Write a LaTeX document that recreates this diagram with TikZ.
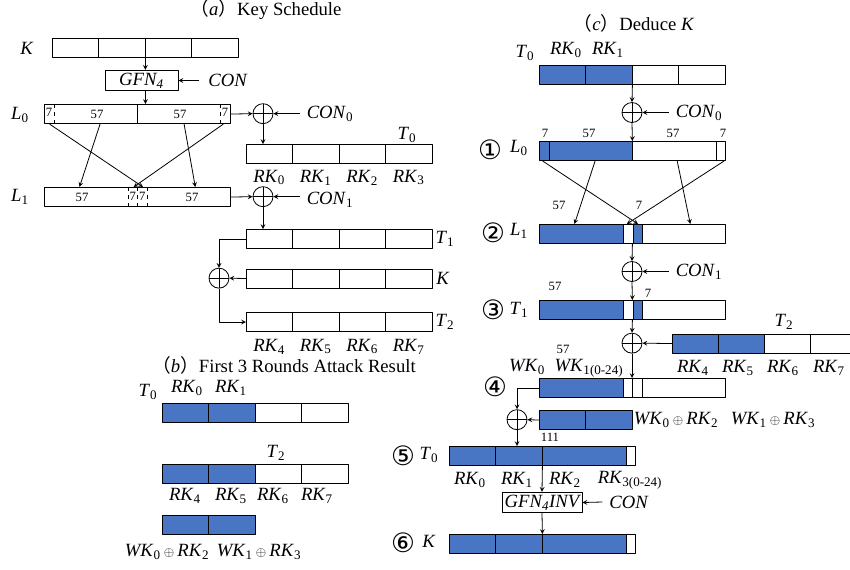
\documentclass[tikz,border=0pt]{standalone}
\usepackage{fontspec}
\setmainfont{Liberation Serif}
\newfontfamily\cjk{Noto Sans CJK SC}
\newfontfamily\circfont{DejaVu Sans}
\usetikzlibrary{calc}
\definecolor{keyblue}{RGB}{72,118,196}
\newcommand\vn[2]{\textit{#1}\textsubscript{#2}}
\newcommand\xo{\,{\fontsize{10}{10}\selectfont$\oplus$}\,}
\tikzset{
	reg/.style={draw,line width=0.6pt,inner sep=0pt,anchor=north west,
		minimum height=14.475pt,minimum width=139.5pt},
	half/.style={minimum width=69.75pt},
	xor/.style={draw,circle,line width=0.6pt,minimum size=15pt,inner sep=0pt,
		path picture={\draw[line width=0.6pt]
			(path picture bounding box.north)--(path picture bounding box.south)
			(path picture bounding box.west)--(path picture bounding box.east);}},
	fnbox/.style={draw,line width=0.6pt,minimum height=14.5pt,inner sep=2pt,
		font=\fontsize{14}{16}\selectfont\itshape},
	lab/.style={font=\fontsize{14}{16}\selectfont,inner sep=0pt},
	num/.style={font=\fontsize{9.5}{10}\selectfont,inner sep=0pt},
	circ/.style={font=\circfont\fontsize{20}{20}\selectfont,inner sep=0pt},
}
\begin{document}
\begin{tikzpicture}[x=0.75pt,y=-0.75pt,line join=round,>=stealth,line width=0.6pt]
	\def\h{19.3}
	\clip (0,0) rectangle (850,569);
	% (a) key schedule
	\node[lab] (titA) at (266,10) {{\cjk （}\textit{a}{\cjk ）}Key Schedule};
	\node[lab] (kLabA) at (27,48) {\textit{K}};
	\node[reg] (kA) at (52,38) {};
	\foreach \x in {98.5,145,191.5} \draw (\x,38)--++(0,\h);
	\node[fnbox,minimum width=54.75pt] (gfnA) at (141.5,80.5) {\vn{GFN}{4}};
	\node[lab] (conA) at (228,80.5) {\textit{CON}};
	\draw[->] (kA.south)--(kA.south |- gfnA.north);
	\draw[->] ([xshift=-7pt]conA.west)--(gfnA.east);
	\node[lab] (l0LabA) at (20,115) {\vn{L}{0}};
	\node[reg] (l0A) at (44,104) {};
	\draw (137,104)--++(0,\h);
	\draw[dashed] (54,104)--++(0,\h) (220,104)--++(0,\h);
	\draw[->] (gfnA.south -| kA.south)--(kA.south |- l0A.north);
	\node[num] (n1A) at (49,112.5) {7};
	\node[num] (n2A) at (97,114) {57};
	\node[num] (n3A) at (180,114) {57};
	\node[num] (n4A) at (225,112.5) {7};
	\node[xor] (x0A) at (263,113.65) {};
	\node[lab] (con0A) at (330,114) {\vn{CON}{0}};
	\draw[->] (l0A.east)--(x0A.west);
	\draw[->] ([xshift=-5pt]con0A.west |- x0A.east)--(x0A.east);
	\node[lab] (t0LabA) at (407,135) {\vn{T}{0}};
	\node[reg] (t0A) at (246,144) {};
	\foreach \x in {292.5,339,385.5} \draw (\x,144)--++(0,\h);
	\draw[->] (x0A.south)--(x0A.south |- t0A.north);
	\foreach \i/\x in {0/269.25,1/315.75,2/362.25,3/408.75}
		\node[lab] (rk\i A) at (\x,177.5) {\vn{RK}{\i}};
	\node[lab] (l1LabA) at (20,197) {\vn{L}{1}};
	\node[reg] (l1A) at (44,187) {};
	\draw[dashed] (128,187)--++(0,\h) (137.5,187)--++(0,\h) (147,187)--++(0,\h);
	\node[num] (n5A) at (82,197) {57};
	\node[num] (n6A) at (132.8,196.5) {7};
	\node[num] (n7A) at (142.3,196.5) {7};
	\node[num] (n8A) at (192,197) {57};
	\foreach \f/\t in {.30/.19,.75/.81,.03/.53,.96/.48}
		\draw[->] ($(l0A.south west)!\f!(l0A.south east)$)--($(l1A.north west)!\t!(l1A.north east)$);
	\node[xor] (x1A) at (263,196.65) {};
	\node[lab] (con1A) at (330,200) {\vn{CON}{1}};
	\draw[->] (l1A.east)--(x1A.west);
	\draw[->] ([xshift=-5pt]con1A.west |- x1A.east)--(x1A.east);
	\node[reg] (t1A) at (246,229) {};
	\node[reg] (k2A) at (246,268.5) {};
	\node[reg] (t2A) at (246,312) {};
	\foreach \y in {229,268.5,312}
		\foreach \x in {292.5,339,385.5} \draw (\x,\y)--++(0,\h);
	\draw[->] (x1A.south)--(x1A.south |- t1A.north);
	\node[lab] (t1LabA) at (445,238.5) {\vn{T}{1}};
	\node[lab] (kLab2A) at (443,278) {\textit{K}};
	\node[lab] (t2LabA) at (445,322) {\vn{T}{2}};
	\node[xor] (xA) at (219,278.15) {};
	\draw[->] (t1A.west)-|(xA.north);
	\draw[->] (k2A.west)--(xA.east);
	\draw[->] (xA.south)|-(t2A.west);
	\foreach \i/\x in {4/269.25,5/315.75,6/362.25,7/408.75}
		\node[lab] (rk\i A) at (\x,346.5) {\vn{RK}{\i}};
	% (b) first 3 rounds
	\node[lab] (titB) at (284,365) {{\cjk （}\textit{b}{\cjk ）}First 3 Rounds Attack Result};
	\node[lab] (t0LabB) at (148,392) {\vn{T}{0}};
	\node[lab] (rk0B) at (187,388) {\vn{RK}{0}};
	\node[lab] (rk1B) at (231,388) {\vn{RK}{1}};
	\fill[keyblue] (162,403) rectangle (255,403+\h);
	\node[reg] (t0B) at (162,403) {};
	\foreach \x in {208.5,255,301.5} \draw (\x,403)--++(0,\h);
	\node[lab] (t2LabB) at (276,453) {\vn{T}{2}};
	\fill[keyblue] (162,464) rectangle (255,464+\h);
	\node[reg] (t2B) at (162,464) {};
	\foreach \x in {208.5,255,301.5} \draw (\x,464)--++(0,\h);
	\foreach \i/\x in {4/185,5/231,6/273,7/317}
		\node[lab] (rk\i B) at (\x,496) {\vn{RK}{\i}};
	\fill[keyblue] (162,515) rectangle (255,515+\h);
	\node[reg,half] (wB) at (162,515) {};
	\draw (208.5,515)--++(0,\h);
	\node[lab] (w0B) at (167,552) {\vn{WK}{0}\xo\vn{RK}{2}};
	\node[lab] (w1B) at (259,552) {\vn{WK}{1}\xo\vn{RK}{3}};
	% (c) deduce K
	\node[lab] (titC) at (634,23) {{\cjk （}\textit{c}{\cjk ）}Deduce \textit{K}};
	\node[lab] (t0LabC) at (525,53) {\vn{T}{0}};
	\node[lab] (rk0C) at (566,50) {\vn{RK}{0}};
	\node[lab] (rk1C) at (608,50) {\vn{RK}{1}};
	\fill[keyblue] (539,65) rectangle (632,65+\h);
	\node[reg] (t0C) at (539,65) {};
	\foreach \x in {585.5,632,678.5} \draw (\x,65)--++(0,\h);
	\node[xor] (x0C) at (632,112.5) {};
	\node[lab] (con0C) at (699,113) {\vn{CON}{0}};
	\draw[->] (t0C.south)--(x0C.north);
	\draw[->] ([xshift=-5pt]con0C.west |- x0C.east)--(x0C.east);
	\node[circ] (c1) at (490,150) {①};
	\node[lab] (l0LabC) at (519,148) {\vn{L}{0}};
	\fill[keyblue] (539,141) rectangle (632,141+\h);
	\node[reg] (l0C) at (539,141) {};
	\foreach \x in {549,632,716} \draw (\x,141)--++(0,\h);
	\draw[->] (x0C.south)--(l0C.north);
	\node[num] (n1C) at (545,133) {7};
	\node[num] (n2C) at (589,133) {57};
	\node[num] (n3C) at (673,133) {57};
	\node[num] (n4C) at (723,133) {7};
	\node[circ] (c2) at (493,233) {②};
	\node[lab] (l1LabC) at (519,231) {\vn{L}{1}};
	\fill[keyblue] (539,224) rectangle (623,224+\h) (633,224) rectangle (642,224+\h);
	\node[reg] (l1C) at (539,224) {};
	\foreach \x in {623,633,642} \draw (\x,224)--++(0,\h);
	\node[num] (n5C) at (559,205) {57};
	\node[num] (n6C) at (639,205) {7};
	\foreach \f/\t in {.30/.19,.74/.81,.02/.53,.99/.47}
		\draw[->] ($(l0C.south west)!\f!(l0C.south east)$)--($(l1C.north west)!\t!(l1C.north east)$);
	\node[xor] (x1C) at (632,271.5) {};
	\node[lab] (con1C) at (699,272) {\vn{CON}{1}};
	\draw[->] (l1C.south)--(x1C.north);
	\draw[->] ([xshift=-5pt]con1C.west |- x1C.east)--(x1C.east);
	\node[circ] (c3) at (493,310) {③};
	\node[lab] (t1LabC) at (519,310) {\vn{T}{1}};
	\fill[keyblue] (539,300) rectangle (623,300+\h) (633,300) rectangle (642,300+\h);
	\node[reg] (t1C) at (539,300) {};
	\foreach \x in {623,633,642} \draw (\x,300)--++(0,\h);
	\draw[->] (x1C.south)--(t1C.north);
	\node[num] (n7C) at (555,286) {57};
	\node[num] (n8C) at (648,293) {7};
	\node[xor] (x2C) at (632,343.15) {};
	\fill[keyblue] (672,333.5) rectangle (764,333.5+\h);
	\node[reg] (t2C) at (672,333.5) {};
	\foreach \x in {718,764,810} \draw (\x,333.5)--++(0,\h);
	\draw[->] (t1C.south)--(x2C.north);
	\draw[->] (t2C.west)--(x2C.east);
	\node[lab] (t2LabC) at (784,322) {\vn{T}{2}};
	\foreach \i/\x in {4/693,5/738,6/783,7/829}
		\node[lab] (rk\i C) at (\x,368) {\vn{RK}{\i}};
	\node[num] (n9C) at (563,349) {57};
	\node[lab] (wk0C) at (527,367) {\vn{WK}{0}};
	\node[lab] (wk1C) at (589,368) {\vn{WK}{1(0-24)}};
	\node[circ] (c4) at (495,387) {④};
	\fill[keyblue] (539,378) rectangle (623,378+\h);
	\node[reg] (r4C) at (539,378) {};
	\foreach \x in {623,632,642} \draw (\x,378)--++(0,\h);
	\draw[->] (x2C.south)--(x2C.south |- r4C.north);
	\node[xor] (x3C) at (517,419.65) {};
	\fill[keyblue] (539,410) rectangle (632,410+\h);
	\node[reg,half] (wC) at (539,410) {};
	\draw (585.5,410)--++(0,\h);
	\draw[->] (r4C.west)-|(x3C.north);
	\draw[->] (wC.west)--(x3C.east);
	\node[lab] (w0C) at (676,420) {\vn{WK}{0}\xo\vn{RK}{2}};
	\node[lab] (w1C) at (773,420) {\vn{WK}{1}\xo\vn{RK}{3}};
	\node[num] (n10C) at (550,437) {111};
	\node[circ] (c5) at (403,456) {⑤};
	\node[lab] (t0LabD) at (429,455) {\vn{T}{0}};
	\fill[keyblue] (449,446) rectangle (626,446+\h);
	\node[reg] (t0D) at (449,446) {};
	\foreach \x in {495.5,542,626} \draw (\x,446)--++(0,\h);
	\draw[->] (x3C.south)--(x3C.south |- t0D.north);
	\foreach \i/\x in {0/470,1/517,2/565} \node[lab] (rk\i D) at (\x,480) {\vn{RK}{\i}};
	\node[lab] (rk3D) at (630,480) {\vn{RK}{3(0-24)}};
	\node[fnbox,minimum width=55.5pt] (gfnC) at (542,502.5) {\vn{GFN}{4}\textit{INV}};
	\node[lab] (conC) at (629,502) {\textit{CON}};
	\draw[->] (t0D.south)--(gfnC.north);
	\draw[->] ([xshift=-5pt]conC.west)--(gfnC.east);
	\node[circ] (c6) at (403,543) {⑥};
	\node[lab] (kLabC) at (429,541) {\textit{K}};
	\fill[keyblue] (449,534) rectangle (626,534+\h);
	\node[reg] (kC) at (449,534) {};
	\foreach \x in {495.5,542,626} \draw (\x,534)--++(0,\h);
	\draw[->] (gfnC.south)--(kC.north);
\end{tikzpicture}
\end{document}
